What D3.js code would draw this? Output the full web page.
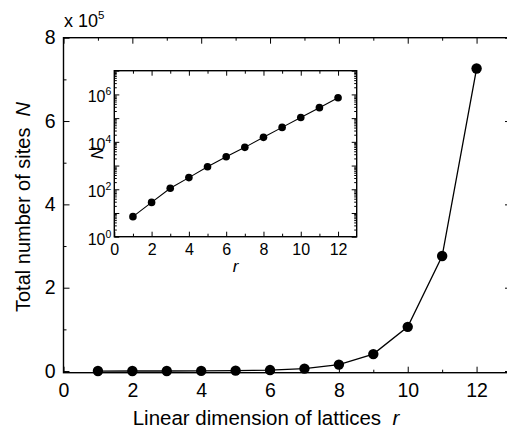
<!DOCTYPE html>
<html>
<head>
<meta charset="utf-8">
<script src="https://cdn.jsdelivr.net/npm/d3@7"></script>
<style>
  body { margin: 0; background: #fff; }
  svg { display: block; font-family: "Liberation Sans", Arial, sans-serif; }
  text { white-space: pre; }
  .domain { display: none; }
</style>
</head>
<body>
<script>
var width = 507,
    height = 429;

// lattice size r and total number of sites N
var rValues = [1, 2, 3, 4, 5, 6, 7, 8, 9, 10, 11, 12];
var nValues = [7, 28, 110, 310, 890, 2350, 5850, 15500, 40700, 106000, 276000, 726000];
var mainXTicks = [0, 2, 4, 6, 8, 10, 12];
var mainYTicks = [0, 2e5, 4e5, 6e5, 8e5];
var insetYLabels = [1, 1e2, 1e4, 1e6];

var svg = d3.select('body')
  .append('svg')
  .attr('width', width)
  .attr('height', height);

// ---- main plot ----
var m = {left: 63.5, right: 511, top: 37.7, bottom: 372.7};

var x = d3.scaleLinear().domain([0, 13]).range([m.left, m.right]);
var y = d3.scaleLinear().domain([-4000, 800000]).range([m.bottom, m.top]);

var minorX = d3.range(1, 13, 2);
var minorY = [1e5, 3e5, 5e5, 7e5];

function ticks(g) {
  g.selectAll('line').attr('stroke', '#000').attr('stroke-width', 1);
  g.selectAll('text').attr('fill', '#000');
}

var main = svg.append('g').attr('id', 'main');

main.append('g')
  .attr('transform', 'translate(0,' + m.bottom + ')')
  .call(d3.axisBottom(x).tickValues(mainXTicks).tickSize(-6).tickPadding(10).tickFormat(d3.format('d')))
  .call(ticks)
  .attr('font-size', 19.5);
main.append('g')
  .attr('transform', 'translate(0,' + m.bottom + ')')
  .call(d3.axisBottom(x).tickValues(minorX).tickSize(-3).tickFormat(''))
  .call(ticks);
main.append('g')
  .attr('transform', 'translate(0,' + m.top + ')')
  .call(d3.axisTop(x).tickValues(mainXTicks).tickSize(-6).tickFormat(''))
  .call(ticks);
main.append('g')
  .attr('transform', 'translate(0,' + m.top + ')')
  .call(d3.axisTop(x).tickValues(minorX).tickSize(-3).tickFormat(''))
  .call(ticks);

main.append('g')
  .attr('transform', 'translate(' + m.left + ',0)')
  .call(d3.axisLeft(y).tickValues(mainYTicks).tickSize(-6).tickPadding(8).tickFormat(function(d) { return d / 1e5; }))
  .call(ticks)
  .attr('font-size', 19.5);
main.append('g')
  .attr('transform', 'translate(' + m.left + ',0)')
  .call(d3.axisLeft(y).tickValues(minorY).tickSize(-3).tickFormat(''))
  .call(ticks);
main.append('g')
  .attr('transform', 'translate(' + m.right + ',0)')
  .call(d3.axisRight(y).tickValues(mainYTicks).tickSize(-6).tickFormat(''))
  .call(ticks);
main.append('g')
  .attr('transform', 'translate(' + m.right + ',0)')
  .call(d3.axisRight(y).tickValues(minorY).tickSize(-3).tickFormat(''))
  .call(ticks);

main.append('rect')
  .attr('x', m.left).attr('y', m.top)
  .attr('width', m.right - m.left).attr('height', m.bottom - m.top)
  .attr('fill', 'none').attr('stroke', '#000').attr('stroke-width', 1.4);

var mult = main.append('text').attr('x', 64).attr('y', 27).attr('font-size', 18);
mult.append('tspan').text('x 10');
mult.append('tspan').attr('font-size', 11.5).attr('dy', -8).text('5');

var xt = main.append('text')
  .attr('x', 266).attr('y', 425)
  .attr('text-anchor', 'middle').attr('font-size', 20.5);
xt.append('tspan').text('Linear dimension of lattices  ');
xt.append('tspan').attr('font-style', 'italic').text('r');

var yt = main.append('text')
  .attr('transform', 'translate(30,207) rotate(-90)')
  .attr('text-anchor', 'middle').attr('font-size', 20);
yt.append('tspan').text('Total number of sites  ');
yt.append('tspan').attr('font-style', 'italic').text('N');

var line = d3.line()
  .x(function(d, i) { return x(rValues[i]); })
  .y(function(d) { return y(d); });

main.append('path')
  .datum(nValues)
  .attr('d', line)
  .attr('fill', 'none').attr('stroke', '#000').attr('stroke-width', 1.3);

main.selectAll('circle')
  .data(nValues)
  .enter()
  .append('circle')
  .attr('cx', function(d, i) { return x(rValues[i]); })
  .attr('cy', function(d) { return y(d); })
  .attr('r', 5.2)
  .attr('fill', '#000');

// ---- inset ----
var n = {left: 114.3, right: 356.7, top: 70.7, bottom: 236.7};

var ix = d3.scaleLinear().domain([0, 13]).range([n.left, n.right]);
var iy = d3.scaleLog().domain([1, 1e7]).range([n.bottom, n.top]);

var inset = svg.append('g').attr('id', 'inset');

var decades = d3.range(0, 8).map(function(e) { return Math.pow(10, e); });
var logMinor = [];
decades.slice(0, 7).forEach(function(p) {
  for (var k = 2; k < 10; k++) logMinor.push(k * p);
});

inset.append('g')
  .attr('transform', 'translate(0,' + n.bottom + ')')
  .call(d3.axisBottom(ix).tickValues(mainXTicks).tickSize(-5).tickPadding(7).tickFormat(d3.format('d')))
  .call(ticks)
  .attr('font-size', 16);
inset.append('g')
  .attr('transform', 'translate(0,' + n.bottom + ')')
  .call(d3.axisBottom(ix).tickValues(minorX).tickSize(-3).tickFormat(''))
  .call(ticks);
inset.append('g')
  .attr('transform', 'translate(0,' + n.top + ')')
  .call(d3.axisTop(ix).tickValues(mainXTicks).tickSize(-5).tickFormat(''))
  .call(ticks);
inset.append('g')
  .attr('transform', 'translate(0,' + n.top + ')')
  .call(d3.axisTop(ix).tickValues(minorX).tickSize(-3).tickFormat(''))
  .call(ticks);

[n.left, n.right].forEach(function(px, side) {
  var ax = side === 0 ? d3.axisLeft : d3.axisRight;
  inset.append('g')
    .attr('transform', 'translate(' + px + ',0)')
    .call(ax(iy).tickValues(decades).tickSize(-5).tickFormat(''))
    .call(ticks);
  inset.append('g')
    .attr('transform', 'translate(' + px + ',0)')
    .call(ax(iy).tickValues(logMinor).tickSize(-2.5).tickFormat(''))
    .call(ticks);
});

inset.selectAll('text.ylab')
  .data(insetYLabels)
  .enter()
  .append('text')
  .attr('class', 'ylab')
  .attr('x', n.left - 3)
  .attr('y', function(d) { return iy(d) + 8; })
  .attr('text-anchor', 'end')
  .attr('font-size', 16)
  .each(function(d) {
    var t = d3.select(this);
    t.append('tspan').text('10');
    t.append('tspan').attr('font-size', 10.5).attr('dy', -7).text(Math.round(Math.log10(d)));
  });

inset.append('rect')
  .attr('x', n.left).attr('y', n.top)
  .attr('width', n.right - n.left).attr('height', n.bottom - n.top)
  .attr('fill', 'none').attr('stroke', '#000').attr('stroke-width', 1.4);

inset.append('text')
  .attr('x', 235.5).attr('y', 272)
  .attr('text-anchor', 'middle').attr('font-size', 17).attr('font-style', 'italic')
  .text('r');

inset.append('text')
  .attr('transform', 'translate(103,153) rotate(-90)')
  .attr('text-anchor', 'middle').attr('font-size', 17).attr('font-style', 'italic')
  .text('N');

var iline = d3.line()
  .x(function(d, i) { return ix(rValues[i]); })
  .y(function(d) { return iy(d); });

inset.append('path')
  .datum(nValues)
  .attr('d', iline)
  .attr('fill', 'none').attr('stroke', '#000').attr('stroke-width', 1.1);

inset.selectAll('circle')
  .data(nValues)
  .enter()
  .append('circle')
  .attr('cx', function(d, i) { return ix(rValues[i]); })
  .attr('cy', function(d) { return iy(d); })
  .attr('r', 3.8)
  .attr('fill', '#000');
</script>
</body>
</html>
